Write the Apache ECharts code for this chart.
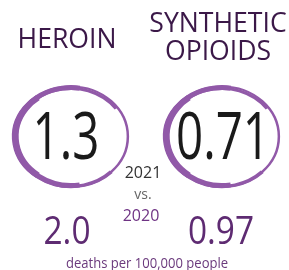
<!DOCTYPE html>
<html><head><meta charset="utf-8">
<script src="https://cdn.jsdelivr.net/npm/echarts@6/dist/echarts.min.js"></script>
<style>html,body{margin:0;padding:0;background:#fff}#c{width:289px;height:270px}</style>
</head><body><div id="c"></div>
<script>
var drugs = ['HEROIN', 'SYNTHETIC\nOPIOIDS'];
var values2021 = ['1.3', '0.71'];
var values2020 = ['2.0', '0.97'];
var yearLabels = ['2021', 'vs.', '2020'];
var unitLabel = 'deaths per 100,000 people';

var chart = echarts.init(document.getElementById('c'), null, {renderer: 'canvas'});
var FONT = '"Open Sans", "Segoe UI", sans-serif';
var centers = [[71, 136.5], [222, 136.5]];
var titleY = [40, 38];
var g = [];

function ring(cx, cy) {
  var sx = 58 / 51;
  var col = '#9159a8';
  var children = [
    {type: 'arc', shape: {cx: 0, cy: 0, r: 50, startAngle: 0, endAngle: Math.PI * 2}, style: {stroke: col, lineWidth: 2.2, fill: null}},
    {type: 'arc', shape: {cx: 0, cy: 0, r: 49, startAngle: Math.PI * 0.45, endAngle: Math.PI * 1.55}, style: {stroke: col, lineWidth: 5, fill: null}},
    {type: 'arc', shape: {cx: -1, cy: 0, r: 48, startAngle: Math.PI * 0.7, endAngle: Math.PI * 1.3}, style: {stroke: col, lineWidth: 6, fill: null}},
    {type: 'arc', shape: {cx: 0, cy: 1, r: 49, startAngle: Math.PI * 1.2, endAngle: Math.PI * 1.8}, style: {stroke: col, lineWidth: 3, fill: null}},
    {type: 'arc', shape: {cx: 0, cy: 0, r: 50, startAngle: Math.PI * 0.25, endAngle: Math.PI * 0.6}, style: {stroke: col, lineWidth: 3.5, fill: null}}
  ];
  return {type: 'group', x: cx, y: cy, scaleX: sx, scaleY: 1, children: children};
}

function txt(t, x, y, size, color, sx, weight, lh) {
  return {type: 'text', x: x, y: y, scaleX: sx, scaleY: 1,
    style: {text: t, x: 0, y: 0, align: 'center', verticalAlign: 'middle',
      fontSize: size, fontFamily: FONT, fontWeight: weight || 'normal', fill: color, lineHeight: lh || size * 1.2}};
}

for (var i = 0; i < drugs.length; i++) {
  var c = centers[i];
  g.push(ring(c[0], c[1]));
  g.push(txt(drugs[i], i === 0 ? 67 : 218, titleY[i], 28, '#3b1848', 0.95, 'normal', 28));
  g.push(txt(values2021[i], i === 0 ? 66 : 223, 140, 66, '#1a1a1a', 0.72, 'normal'));
  g.push(txt(values2020[i], i === 0 ? 67 : 221, 233, 38, '#5e2b72', 0.88, 'normal'));
}
g.push(txt(yearLabels[0], 143, 173, 16, '#333333', 1));
g.push(txt(yearLabels[1], 143, 195, 14, '#666666', 1));
g.push(txt(yearLabels[2], 141, 216, 16, '#6f3384', 1));
g.push(txt(unitLabel, 147, 264, 14.5, '#6b3a7d', 0.9));

chart.setOption({backgroundColor: '#ffffff', animation: false, graphic: g});
</script></body></html>
